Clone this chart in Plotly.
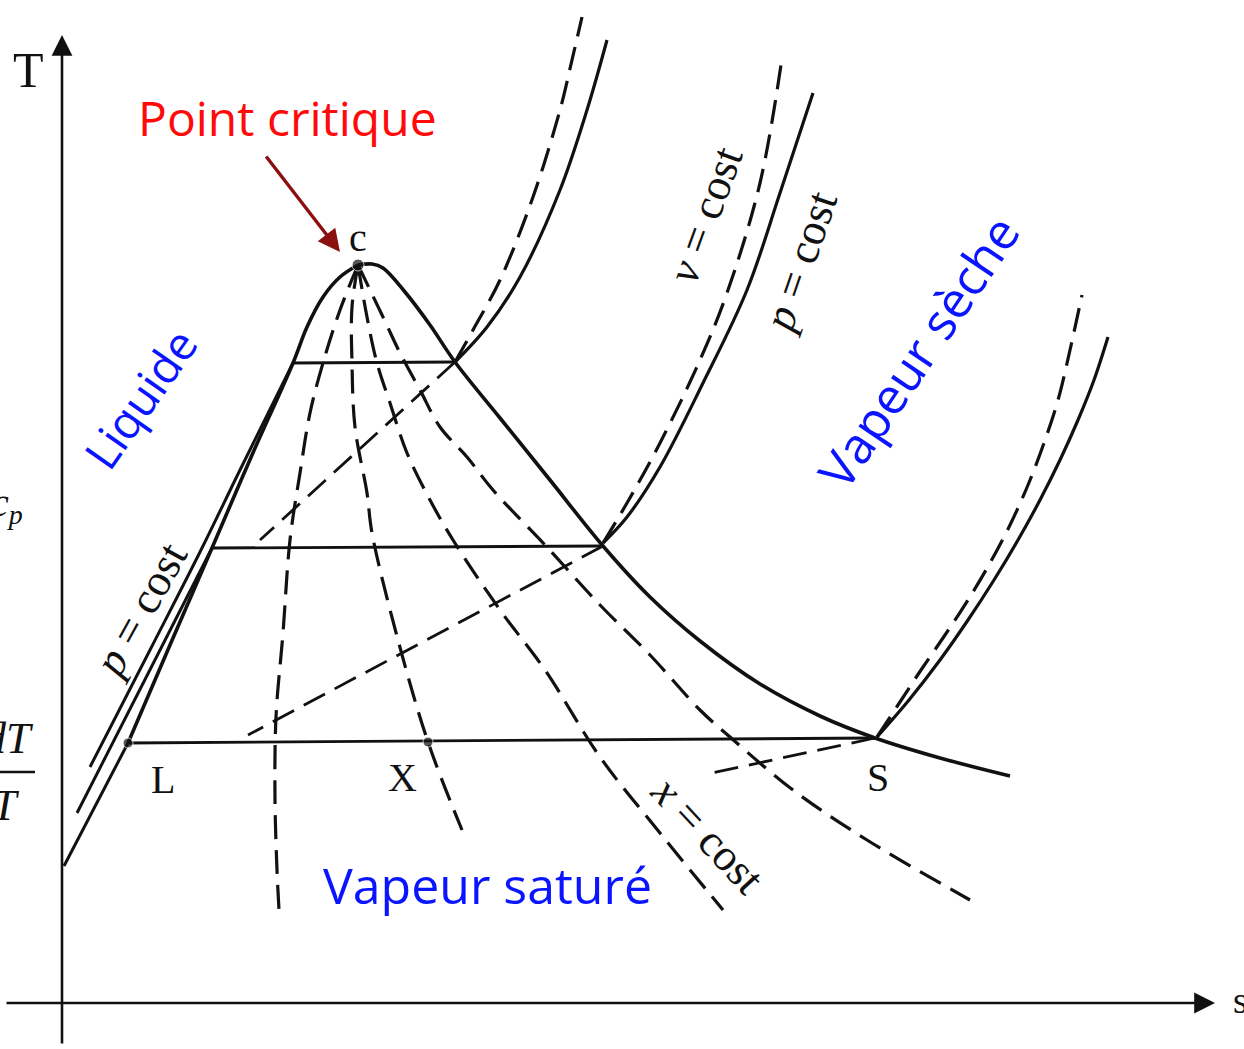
import plotly.graph_objects as go

# ---- data (entropy s, temperature T in arbitrary diagram units) ----
# saturation dome
dome_liq_s = [66, 108, 150, 190, 231, 245, 261, 278, 296]
dome_liq_T = [260, 358, 455, 548, 640, 676, 706, 726, 738]
dome_vap_s = [296, 310, 321, 343, 368, 393, 438, 488, 541, 588, 638, 698, 758, 813, 878, 948]
dome_vap_T = [738, 739, 735, 711, 678, 641, 585, 523, 457, 406, 362, 319, 287, 265, 245, 227]

# isobars in the liquid region
p1_liq_s = [2, 66];            p1_liq_T = [137, 260]
p2_liq_s = [15, 150];          p2_liq_T = [190, 455]
p3_liq_s = [28, 88, 138, 178, 231]; p3_liq_T = [236, 353, 451, 533, 640]

# isobars / isotherms in the wet region (horizontal)
h1_s = [66, 813];  h1_T = [260, 265]
h2_s = [150, 541]; h2_T = [455, 457]
h3_s = [231, 393]; h3_T = [640, 641]

# isobars in the superheated region
P1_s = [815, 847, 878, 906, 932, 956, 978, 998, 1016, 1032, 1046]
P1_T = [266, 303, 343, 383, 423, 463, 503, 543, 583, 623, 666]
P2_s = [541, 565, 598, 641, 685, 718, 751]
P2_T = [460, 486, 536, 620, 713, 810, 910]
P3_s = [393, 425, 458, 498, 525, 545]
P3_T = [641, 676, 726, 813, 893, 963]

# isochores in the superheated region
V1_s = [815, 836, 859, 883, 906, 928, 948, 966, 982, 996, 1008, 1020]
V1_T = [266, 298, 333, 368, 403, 440, 478, 518, 560, 603, 653, 708]
V2_s = [541, 565, 598, 638, 665, 698, 720]
V2_T = [460, 500, 560, 643, 710, 820, 945]
V3_s = [393, 411, 438, 471, 498, 510, 520]
V3_T = [641, 673, 723, 806, 893, 943, 986]

# isochores in the wet region
W1_s = [813, 650]; W1_T = [265, 230]
W2_s = [541, 186]; W2_T = [457, 268]
W3_s = [393, 198]; W3_T = [641, 463]

# constant quality lines from the critical point
Xa_s = [296, 278, 261, 248, 238, 228, 221, 214, 213, 215, 217]
Xa_T = [738, 693, 640, 590, 530, 463, 370, 286, 203, 133, 93]
Xb_s = [296, 290, 290, 293, 305, 310, 336, 366, 400]
Xb_T = [738, 696, 640, 576, 510, 470, 363, 261, 173]
Xc_s = [296, 305, 315, 328, 345, 368, 391, 438, 483, 538, 598, 661]
Xc_T = [738, 686, 640, 600, 550, 503, 463, 393, 333, 246, 170, 93]
Xd_s = [296, 321, 338, 358, 378, 405, 431, 483, 538, 588, 638, 668, 731, 805, 908]
Xd_T = [738, 686, 650, 613, 576, 546, 513, 458, 398, 348, 293, 266, 213, 163, 103]

# named points
pt_names = ["L", "X", "c"]
pt_s = [66, 366, 296]
pt_T = [260, 261, 738]

S_RANGE = [-62, 1182]
T_RANGE = [-46, 1003]

BLACK = "#111111"
BLUE = "#0a14ff"
RED = "#ff0a0a"
DASH = "24px,11px"

fig = go.Figure()


def add_line(s, T, width=3.2, dash=None, shape="spline"):
    fig.add_trace(go.Scatter(
        x=s, y=T, mode="lines", hoverinfo="skip", showlegend=False,
        line=dict(color=BLACK, width=width, dash=dash, shape=shape, smoothing=1.0)))


# dome
add_line(dome_liq_s, dome_liq_T, width=3.6)
add_line(dome_vap_s, dome_vap_T, width=3.6)
# liquid isobars
add_line(p1_liq_s, p1_liq_T, width=3.0, shape="linear")
add_line(p2_liq_s, p2_liq_T, width=3.0, shape="linear")
add_line(p3_liq_s, p3_liq_T, width=3.0)
# horizontals
for s, T in [(h1_s, h1_T), (h2_s, h2_T), (h3_s, h3_T)]:
    add_line(s, T, width=2.8, shape="linear")
# superheated isobars
for s, T in [(P1_s, P1_T), (P2_s, P2_T), (P3_s, P3_T)]:
    add_line(s, T, width=3.2)
# superheated isochores
for s, T in [(V1_s, V1_T), (V2_s, V2_T), (V3_s, V3_T)]:
    add_line(s, T, width=3.2, dash=DASH)
# wet isochores
for s, T in [(W1_s, W1_T), (W2_s, W2_T), (W3_s, W3_T)]:
    add_line(s, T, width=2.8, dash=DASH, shape="linear")
# quality lines
for s, T in [(Xa_s, Xa_T), (Xb_s, Xb_T), (Xc_s, Xc_T), (Xd_s, Xd_T)]:
    add_line(s, T, width=3.2, dash=DASH)

# points
fig.add_trace(go.Scatter(x=pt_s, y=pt_T, mode="markers", hoverinfo="skip", showlegend=False,
                         marker=dict(color=BLACK, size=[10, 10, 12])))

annotations = []
# axes arrows
annotations.append(dict(x=0, y=968, ax=0, ay=-42, xref="x", yref="y", axref="x", ayref="y",
                        text="", showarrow=True, arrowhead=2, arrowsize=1.6, arrowwidth=2.6,
                        arrowcolor=BLACK))
annotations.append(dict(x=1153, y=0, ax=-57, ay=0, xref="x", yref="y", axref="x", ayref="y",
                        text="", showarrow=True, arrowhead=2, arrowsize=1.6, arrowwidth=2.6,
                        arrowcolor=BLACK))
# critical point arrow
annotations.append(dict(x=278, y=751, ax=203, ay=848, xref="x", yref="y", axref="x", ayref="y",
                        text="", showarrow=True, arrowhead=2, arrowsize=1.3, arrowwidth=3.4,
                        arrowcolor="#8b1010"))

serif = "Liberation Serif"
sans = "Open Sans"


def txt(x, y, t, size, color=BLACK, family=serif, angle=0, xanchor="center"):
    annotations.append(dict(x=x, y=y, xref="x", yref="y", text=t, showarrow=False,
                            textangle=angle, xanchor=xanchor, yanchor="middle",
                            font=dict(family=family, size=size, color=color)))


txt(-34, 933, "T", 50)
txt(1178, 3, "s", 38)
txt(101, 224, "L", 40)
txt(340, 226, "X", 40)
txt(816, 226, "S", 40)
txt(296, 766, "c", 40)
# fragments at the left edge
txt(-37, 498, "<i>c</i><sub><i>p</i></sub>", 40, xanchor="right")
txt(-26, 265, "<i>dT</i>", 44, xanchor="right")
txt(-40, 198, "<i>dT</i>", 44, xanchor="right")
# curve labels
txt(78, 393, "<i>p</i> = cost", 45, angle=-61)
txt(643, 788, "<i>v</i> = cost", 45, angle=-70)
txt(738, 741, "<i>p</i> = cost", 45, angle=-71)
txt(646, 168, "<i>x</i> = cost", 45, angle=47)
# region labels
txt(225, 886, "Point cri\u200ctique", 48, color=RED, family=sans)
txt(78, 605, "Liquide", 46, color=BLUE, family=sans, angle=-55)
txt(856, 651, "Vapeur sèche", 50, color=BLUE, family=sans, angle=-56)
txt(425, 118, "Vapeur saturé", 50, color=BLUE, family=sans)

fig.add_shape(type="line", x0=-62, x1=-27, y0=231, y1=231, line=dict(color=BLACK, width=2.5))

fig.update_layout(
    width=1244, height=1049,
    margin=dict(l=0, r=0, t=0, b=0),
    paper_bgcolor="white", plot_bgcolor="white",
    xaxis=dict(range=S_RANGE, visible=False, fixedrange=True),
    yaxis=dict(range=T_RANGE, visible=False, fixedrange=True),
    annotations=annotations,
)

fig.write_html("out.html", config={"displayModeBar": False},
               post_script="document.body.style.margin='0';document.body.style.overflow='hidden';")
